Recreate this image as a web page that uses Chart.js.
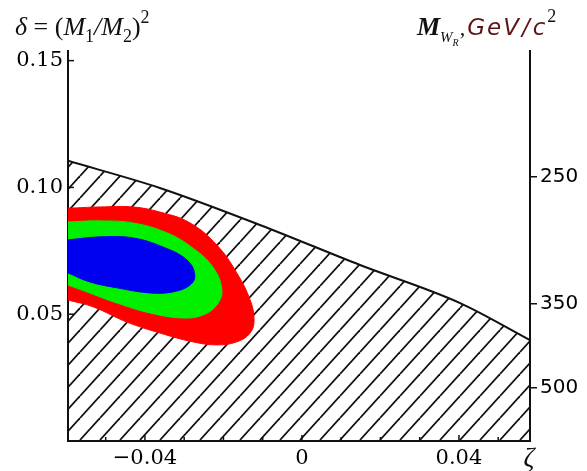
<!DOCTYPE html>
<html>
<head>
<meta charset="utf-8">
<script src="https://cdn.jsdelivr.net/npm/chart.js@4.4.1/dist/chart.umd.min.js"></script>
<style>
  html, body { margin: 0; padding: 0; background: #fff; }
  #wrap { width: 587px; height: 471px; }
</style>
</head>
<body>
<div id="wrap"><canvas id="myChart"></canvas></div>
<script>
// upper edge of the hatched (excluded) region
const boundaryZeta  = [-0.0596, -0.0362, -0.0107, 0.0148, 0.0403, 0.0581];
const boundaryDelta = [0.1105, 0.0998, 0.0852, 0.0694, 0.0544, 0.0398];

// outer contour (red)
const redZeta  = [-0.0596, -0.0514, -0.0431, -0.0362, -0.0285, -0.0217, -0.0166, -0.0132, -0.0122, -0.0132, -0.0166, -0.0217, -0.0278, -0.0362, -0.0446, -0.0532, -0.0596];
const redDelta = [0.0918, 0.0923, 0.0923, 0.0903, 0.0860, 0.0773, 0.0663, 0.0556, 0.0477, 0.0426, 0.0391, 0.0379, 0.0391, 0.0426, 0.0469, 0.0529, 0.0556];

// middle contour (green)
const greenZeta  = [-0.0596, -0.0514, -0.0431, -0.0344, -0.0278, -0.0227, -0.0204, -0.0217, -0.0252, -0.0303, -0.0387, -0.0471, -0.0548, -0.0596];
const greenDelta = [0.0864, 0.0868, 0.0860, 0.0821, 0.0761, 0.0686, 0.0596, 0.0536, 0.0497, 0.0485, 0.0505, 0.0544, 0.0588, 0.0615];

// inner contour (blue)
const blueZeta  = [-0.0596, -0.0514, -0.0431, -0.0354, -0.0293, -0.0273, -0.0285, -0.0329, -0.0387, -0.0471, -0.0540, -0.0596];
const blueDelta = [0.0793, 0.0805, 0.0801, 0.0765, 0.0714, 0.0655, 0.0615, 0.0588, 0.0584, 0.0604, 0.0627, 0.0663];

// tick labels
const xMajorTicks  = [-0.04, 0, 0.04];
const xMajorLabels = ['\u22120.04', '0', '0.04'];
const xMinorTicks  = [-0.05, -0.03, -0.02, -0.01, 0.01, 0.02, 0.03, 0.05];
const yTicks       = [0.15, 0.10, 0.05];
const yLabels      = ['0.15', '0.10', '0.05'];
const massTicks    = [0.1041, 0.0540, 0.0209];   // where the M_WR marks sit on the delta scale
const massLabels   = ['250', '350', '500'];

const pts = (xs, ys) => xs.map((x, i) => ({ x: x, y: ys[i] }));

// diagonal hatch pattern
function makeHatch() {
  const c = document.createElement('canvas');
  const w = 20, h = 22;
  c.width = w; c.height = h;
  const g = c.getContext('2d');
  g.strokeStyle = '#111';
  g.lineWidth = 1.8;
  for (let k = -1; k <= 1; k++) {
    g.beginPath();
    g.moveTo(k * w, h);
    g.lineTo(k * w + w, 0);
    g.stroke();
  }
  return g.createPattern(c, 'repeat');
}

function drawRuns(ctx, x, y, runs) {
  runs.forEach(r => {
    ctx.font = r.font;
    ctx.fillStyle = r.color || '#111';
    ctx.fillText(r.t, x, y + (r.dy || 0));
    x += ctx.measureText(r.t).width + (r.gap || 0);
  });
}

const extras = {
  id: 'extras',
  afterDraw(chart) {
    const ctx = chart.ctx;
    const a = chart.chartArea;
    const xs = chart.scales.x, ys = chart.scales.y;
    ctx.save();
    ctx.strokeStyle = '#111';
    ctx.lineWidth = 1.5;
    // inward ticks on the bottom axis
    xMajorTicks.concat(xMinorTicks).forEach(v => {
      const px = xs.getPixelForValue(v);
      const len = xMajorTicks.includes(v) ? 6 : 4;
      ctx.beginPath(); ctx.moveTo(px, a.bottom); ctx.lineTo(px, a.bottom - len); ctx.stroke();
    });
    // inward ticks on the left axis
    yTicks.forEach(v => {
      const py = ys.getPixelForValue(v);
      ctx.beginPath(); ctx.moveTo(a.left, py); ctx.lineTo(a.left + 6, py); ctx.stroke();
    });
    ctx.textBaseline = 'alphabetic';
    ctx.textAlign = 'left';
    // left axis title
    const serif = '"Liberation Serif", "DejaVu Serif", serif';
    drawRuns(ctx, 15, 35, [
      { t: '\u03b4', font: 'italic 26px ' + serif },
      { t: ' = (', font: '26px ' + serif },
      { t: 'M', font: 'italic 26px ' + serif },
      { t: '1', font: '18px ' + serif, dy: 7 },
      { t: '/', font: 'italic 26px ' + serif },
      { t: 'M', font: 'italic 26px ' + serif },
      { t: '2', font: '18px ' + serif, dy: 7 },
      { t: ')', font: '26px ' + serif },
      { t: '2', font: '18px ' + serif, dy: -12 }
    ]);
    // right axis title
    const gev = 'italic 23px "DejaVu Sans", sans-serif';
    drawRuns(ctx, 417, 35, [
      { t: 'M', font: 'bold italic 26px ' + serif },
      { t: 'W', font: 'italic 15px ' + serif, dy: 7 },
      { t: 'R', font: 'italic 10px ' + serif, dy: 11, gap: 1 },
      { t: ',', font: '22px ' + serif, gap: 2 },
      { t: 'G', font: gev, color: '#5c1414', gap: 2 },
      { t: 'e', font: gev, color: '#5c1414', gap: 2 },
      { t: 'V', font: gev, color: '#5c1414', gap: 3 },
      { t: '/', font: gev, color: '#5c1414', gap: 3 },
      { t: 'c', font: gev, color: '#5c1414', gap: 2 },
      { t: '2', font: '18px ' + serif, dy: -13 }
    ]);
    // zeta label
    ctx.font = 'italic 27px ' + serif;
    ctx.fillStyle = '#111';
    ctx.textAlign = 'center';
    ctx.fillText('\u03b6', a.right - 1, 466);
    ctx.restore();
  }
};

const hatch = makeHatch();

const myChart = new Chart(document.getElementById('myChart'), {
  type: 'scatter',
  data: {
    datasets: [
      {
        label: 'inner',
        data: pts(blueZeta, blueDelta),
        showLine: true, tension: 0.4, pointRadius: 0,
        borderColor: '#0000f0', borderWidth: 1,
        backgroundColor: '#0000f0', fill: 'shape', order: 0
      },
      {
        label: 'middle',
        data: pts(greenZeta, greenDelta),
        showLine: true, tension: 0.4, pointRadius: 0,
        borderColor: '#00f000', borderWidth: 1,
        backgroundColor: '#00f000', fill: 'shape', order: 1
      },
      {
        label: 'outer',
        data: pts(redZeta, redDelta),
        showLine: true, tension: 0.4, pointRadius: 0,
        borderColor: '#ff0000', borderWidth: 1,
        backgroundColor: '#ff0000', fill: 'shape', order: 2
      },
      {
        label: 'excluded',
        data: pts(boundaryZeta, boundaryDelta),
        showLine: true, cubicInterpolationMode: 'monotone', pointRadius: 0,
        borderColor: '#111', borderWidth: 2,
        backgroundColor: hatch, fill: 'origin', order: 3
      }
    ]
  },
  options: {
    responsive: true,
    maintainAspectRatio: false,
    animation: false,
    events: [],
    layout: { padding: { top: 51, left: 0, right: 0, bottom: 0 } },
    plugins: { legend: { display: false }, tooltip: { enabled: false } },
    scales: {
      x: {
        type: 'linear', position: 'bottom',
        min: -0.0596, max: 0.0581,
        afterFit: s => { s.height = 30; },
        afterBuildTicks: s => { s.ticks = xMajorTicks.map(v => ({ value: v })); },
        ticks: {
          callback: (v, i) => xMajorLabels[i],
          font: { family: '"DejaVu Serif", serif', size: 21 },
          color: '#000', padding: 5, maxRotation: 0, autoSkip: false
        },
        grid: { display: false, drawTicks: false },
        border: { display: true, color: '#111', width: 2 }
      },
      y: {
        type: 'linear', position: 'left',
        min: 0, max: 0.1538,
        afterFit: s => { s.width = 68; },
        afterBuildTicks: s => { s.ticks = yTicks.map(v => ({ value: v })); },
        ticks: {
          callback: (v, i) => yLabels[i],
          font: { family: '"DejaVu Serif", serif', size: 21 },
          color: '#000', padding: 5, autoSkip: false
        },
        grid: { display: false, drawTicks: false },
        border: { display: true, color: '#111', width: 2 }
      },
      y2: {
        type: 'linear', position: 'right',
        min: 0, max: 0.1538,
        afterFit: s => { s.width = 57; },
        afterBuildTicks: s => { s.ticks = massTicks.map(v => ({ value: v })); },
        ticks: {
          callback: (v, i) => massLabels[i],
          font: { family: '"DejaVu Sans", sans-serif', size: 20 },
          color: '#000', padding: 3, autoSkip: false
        },
        grid: { display: true, drawOnChartArea: false, drawTicks: true, tickLength: 7, color: '#111', lineWidth: 1.5 },
        border: { display: true, color: '#111', width: 2 }
      }
    }
  },
  plugins: [extras]
});
</script>
</body>
</html>
